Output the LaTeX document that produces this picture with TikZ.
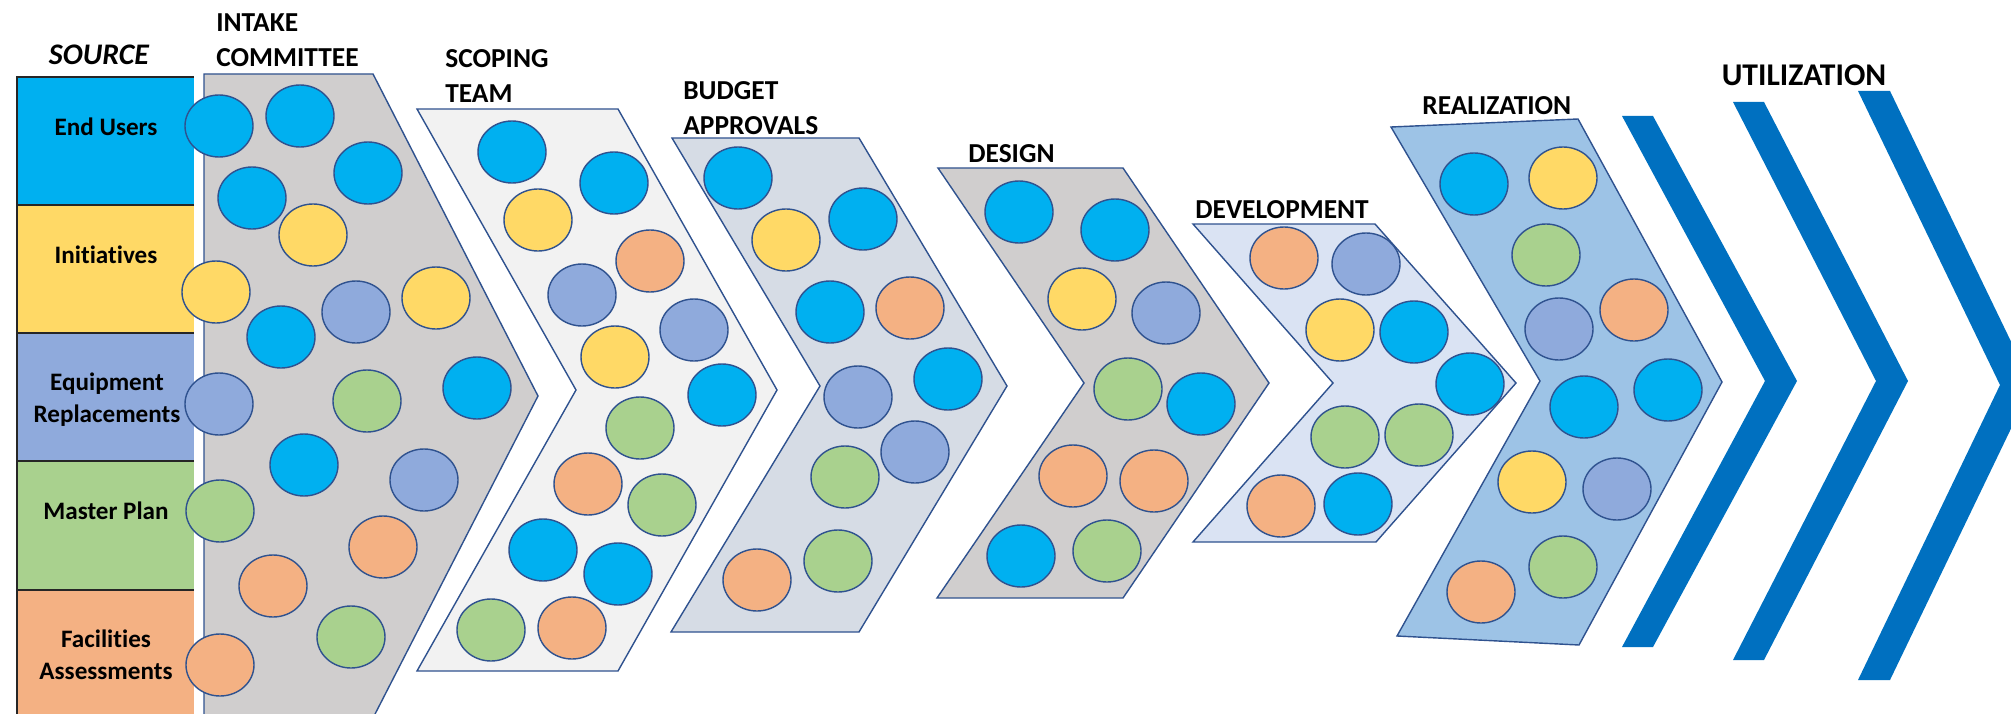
\documentclass[tikz,border=0pt]{standalone}
\usepackage{fontspec}
\setmainfont{Carlito}[Ligatures=NoCommon]
\usepackage{xcolor}
\usepackage{tikz}

\definecolor{cblue}{HTML}{00B0F0}
\definecolor{cyellow}{HTML}{FFD966}
\definecolor{cperi}{HTML}{8FAADC}
\definecolor{cgreen}{HTML}{A9D18E}
\definecolor{corange}{HTML}{F4B183}
\definecolor{edgeblue}{HTML}{2F528F}
\definecolor{greyfill}{HTML}{D0CECE}
\definecolor{paleg}{HTML}{F2F2F2}
\definecolor{budgetfill}{HTML}{D6DCE5}
\definecolor{devfill}{HTML}{DAE3F3}
\definecolor{realfill}{HTML}{9DC3E6}
\definecolor{arrowblue}{HTML}{0070C0}

\begin{document}
\begin{tikzpicture}[x=0.2mm, y=-0.2mm,
        stage/.style={draw=edgeblue, line width=0.8pt},
        dot/.style={draw=edgeblue, line width=0.8pt},
        srcline/.style={draw=black!85, line width=0.8pt},
        title/.style={anchor=west, inner sep=0pt, align=left,
            font=\fontsize{15.6}{19.9}\selectfont\bfseries},
        srclabel/.style={inner sep=0pt, align=center,
            font=\fontsize{14.3}{18.2}\selectfont\bfseries}]
    \useasboundingbox (0,0) rectangle (2011,714);
    \clip (0,0) rectangle (2011,714);

    % Source column
    \foreach \c/\t/\b in {cblue/77/205, cyellow/205/333, cperi/333/461,
            cgreen/461/590, corange/590/714} {
        \fill[\c] (17,\t) rectangle (194,\b);
        \draw[srcline] (194,\t) -- (17,\t) -- (17,\b);
    }

    % Stages
    \draw[stage, fill=greyfill] (204,74) -- (373,74) -- (538,396)
        -- (373,718) -- (204,718) -- cycle;
    \draw[stage, fill=paleg] (417,109) -- (618,109) -- (777,390)
        -- (618,671) -- (417,671) -- (576,390) -- cycle;
    \draw[stage, fill=budgetfill] (672,138) -- (859,138) -- (1007,386)
        -- (859,632) -- (671,632) -- (820,386) -- cycle;
    \draw[stage, fill=greyfill] (938,168) -- (1123,168) -- (1269,383)
        -- (1123,598) -- (937,598) -- (1084,383) -- cycle;
    \draw[stage, fill=devfill] (1193,224) -- (1375,224) -- (1516,383)
        -- (1376,542) -- (1193,542) -- (1333,383) -- cycle;
    \draw[stage, fill=realfill] (1391,127) -- (1578,119) -- (1722,382)
        -- (1579,645) -- (1397,636) -- (1540,381) -- cycle;

    % Projects
    \foreach \x/\y/\c in {
            219/126/cblue, 300/116/cblue, 368/173/cblue, 252/198/cblue,
            313/235/cyellow, 216/292/cyellow, 356/312/cperi, 281/337/cblue,
            436/298/cyellow, 219/404/cperi, 367/401/cgreen, 304/465/cblue,
            424/480/cperi, 477/388/cblue, 220/511/cgreen, 383/547/corange,
            273/586/corange, 351/637/cgreen, 220/665/corange,
            % scoping team
            512/152/cblue, 614/183/cblue, 538/220/cyellow, 650/261/corange,
            582/295/cperi, 694/330/cperi, 615/357/cyellow, 722/395/cblue,
            640/428/cgreen, 588/484/corange, 662/505/cgreen, 543/550/cblue,
            618/574/cblue, 491/630/cgreen, 572/628/corange,
            % budget approvals
            738/178/cblue, 786/240/cyellow, 863/219/cblue, 830/312/cblue,
            910/308/corange, 948/379/cblue, 858/397/cperi, 915/452/cperi,
            845/477/cgreen, 838/561/cgreen, 757/580/corange,
            % design
            1019/212/cblue, 1115/230/cblue, 1082/299/cyellow, 1166/313/cperi,
            1128/389/cgreen, 1201/404/cblue, 1073/476/corange, 1154/481/corange,
            1021/556/cblue, 1107/551/cgreen,
            % development
            1284/258/corange, 1366/264/cperi, 1340/330/cyellow, 1414/332/cblue,
            1470/384/cblue, 1345/437/cgreen, 1419/435/cgreen, 1281/506/corange,
            1358/504/cblue,
            % realization
            1474/184/cblue, 1563/178/cyellow, 1546/255/cgreen, 1559/329/cperi,
            1634/310/corange, 1584/407/cblue, 1668/390/cblue, 1532/482/cyellow,
            1617/489/cperi, 1563/567/cgreen, 1481/592/corange}
        \draw[dot, fill=\c] (\x,\y) ellipse [x radius=34, y radius=31];

    % Utilization chevrons
    \fill[arrowblue] (1622,116) -- (1653,116) -- (1797,381) -- (1653,647)
        -- (1622,647) -- (1765,381) -- cycle;
    \fill[arrowblue] (1733,102) -- (1764,102) -- (1908,381) -- (1764,660)
        -- (1733,660) -- (1876,381) -- cycle;
    \fill[arrowblue] (1858,91) -- (1890,91) -- (2032,385) -- (1890,680)
        -- (1858,680) -- (2000,385) -- cycle;

    % Labels
    \node[font=\fontsize{17}{20}\selectfont\bfseries\itshape] (src) at (99,55) {SOURCE};
    \node[srclabel] (eu) at (106,127) {End Users};
    \node[srclabel] (ini) at (106,255) {Initiatives};
    \node[srclabel] (eq) at (107,400) {Equipment\\Replacements};
    \node[srclabel] (mp) at (106,511) {Master Plan};
    \node[srclabel] (fa) at (106,655) {Facilities\\Assessments};

    \node[title] (intake) at (216,40.5) {INTAKE\\COMMITTEE};
    \node[title] (scope) at (445,76) {SCOPING\\TEAM};
    \node[title] (budget) at (683,108.5) {BUDGET\\APPROVALS};
    \node[title] (design) at (968,154) {DESIGN};
    \node[title] (devel) at (1195,210) {DEVELOPMENT};
    \node[title] (real) at (1422,106) {REALIZATION};
    \node[font=\fontsize{18}{21}\selectfont\bfseries] (util) at (1804,75) {UTILIZATION};
\end{tikzpicture}
\end{document}
